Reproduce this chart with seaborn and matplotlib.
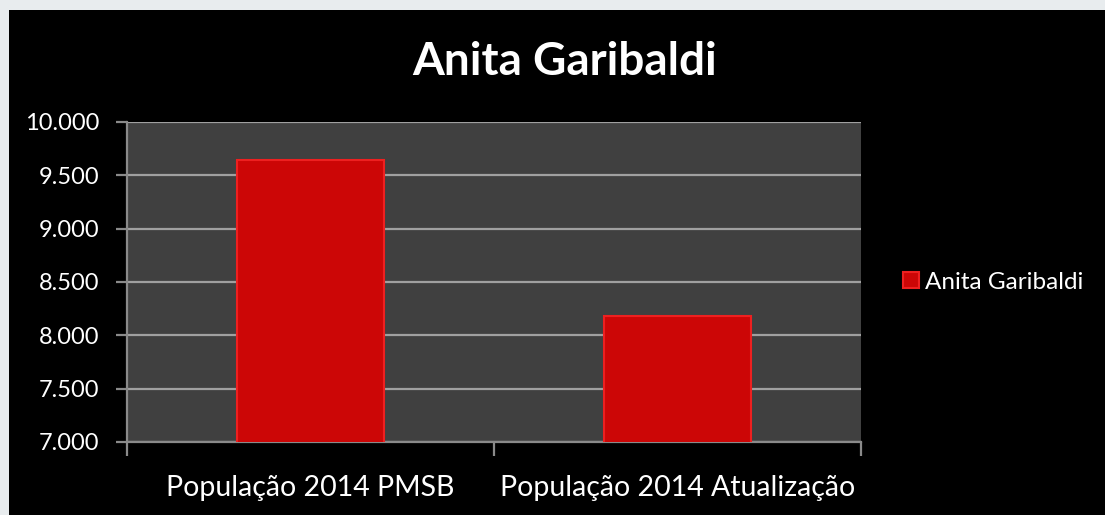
import numpy as np
import pandas as pd
import matplotlib
matplotlib.use('Agg')
import matplotlib.pyplot as plt
from matplotlib.patches import Rectangle
from matplotlib.ticker import FuncFormatter, FixedLocator
import seaborn as sns

# --- DATA
categories = ['População 2014 PMSB', 'População 2014 Atualização']
populacao = [9640, 8178]
serie = 'Anita Garibaldi'

df = pd.DataFrame({'categoria': categories, 'populacao': populacao, 'serie': serie})

sns.set_theme(style='dark')
plt.rcParams['font.family'] = ['Lato', 'DejaVu Sans']

fig = plt.figure(figsize=(11.05, 5.15), dpi=100)
fig.patch.set_facecolor('#e8ecee')
# black chart area, behind the axes
fig.add_artist(Rectangle((9 / 1105, 0), 1, 1 - 10 / 515, transform=fig.transFigure,
                         facecolor='black', edgecolor='none', zorder=-10))

ax = fig.add_axes([127 / 1105, 1 - 442 / 515, (861 - 127) / 1105, (442 - 122) / 515])
ax.set_facecolor('#404040')

sns.barplot(data=df, x='categoria', y='populacao', hue='serie', palette=['#cc0606'],
            saturation=1, width=0.4, edgecolor='#ee2020', linewidth=1.5, ax=ax, zorder=3)

ax.set_ylim(7000, 10000)
ax.set_xlim(-0.5, 1.5)
ax.yaxis.set_major_locator(FixedLocator(np.arange(7000, 10001, 500)))
ax.yaxis.set_major_formatter(FuncFormatter(lambda v, p: f'{int(v):,}'.replace(',', '.')))
ax.grid(axis='y', color='#a0a0a0', linewidth=1.6, zorder=1)
ax.grid(axis='x', visible=False)

for s in ['top', 'right']:
    ax.spines[s].set_visible(False)
for s in ['left', 'bottom']:
    ax.spines[s].set_color('#8a8a8a')
    ax.spines[s].set_linewidth(1.6)

ax.tick_params(axis='y', which='major', colors='#8a8a8a', length=8, width=1.6,
               direction='out', left=True, labelcolor='white', labelsize=17, pad=12)
ax.tick_params(axis='x', which='major', length=0, labelcolor='white', labelsize=20.5, pad=24)
ax.xaxis.set_minor_locator(FixedLocator([-0.5, 0.5, 1.5]))
ax.tick_params(axis='x', which='minor', bottom=True, colors='#8a8a8a', length=10, width=1.6,
               direction='out')

ax.set_xlabel('')
ax.set_ylabel('')

leg = ax.legend(loc='center left', bbox_to_anchor=(1.044, 0.5), frameon=False,
                fontsize=17.5, handlelength=0.65, handleheight=0.65, handletextpad=0.25,
                labelcolor='white', borderaxespad=0)

fig.text(565 / 1105, 1 - 62 / 515, 'Anita Garibaldi', ha='center', va='center',
         color='white', fontsize=33, fontweight='bold')

fig.savefig('out.png', dpi=100, facecolor=fig.get_facecolor())
